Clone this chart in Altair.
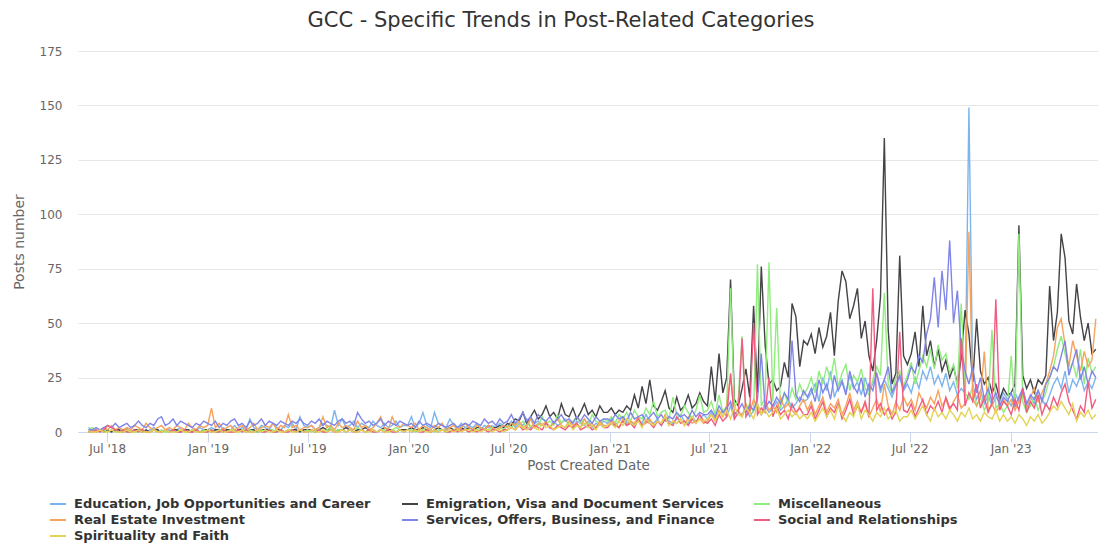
import altair as alt
import pandas as pd

series_names = [
    "Education, Job Opportunities and Career",
    "Emigration, Visa and Document Services",
    "Miscellaneous",
    "Real Estate Investment",
    "Services, Offers, Business, and Finance",
    "Social and Relationships",
    "Spirituality and Faith",
]
colors = ["#7cb5ec", "#434348", "#90ed7d", "#f7a35c", "#8085e9", "#f15c80", "#e4d354"]

# weekly points, first week starting 2018-05-28
first_week = "2018-05-28"
n_weeks = 263

education = [
    2,1,1,0,1,
    1,0,1,1,0,2,1,0,1,1,0,1,2,1,0,1,1,0,1,2,1,0,1,1,2,1,
    1,2,1,0,2,1,1,3,1,2,1,6,2,1,3,2,1,4,2,1,3,2,4,1,7,3,
    2,3,1,2,4,3,2,10,3,6,2,3,5,2,4,3,2,5,3,2,4,2,3,5,2,3,
    3,7,2,4,9,3,2,9,4,3,2,6,3,2,4,2,3,2,4,1,3,2,3,2,4,3,
    3,5,2,4,3,6,2,4,5,3,4,2,5,3,4,6,3,2,5,4,3,5,2,4,3,5,
    4,6,3,5,7,4,5,3,6,4,8,5,4,6,3,7,5,4,6,8,5,4,7,5,6,8,
    6,9,5,8,10,7,12,6,9,8,11,7,10,13,8,12,9,11,14,10,12,15,11,13,16,14,
    15,18,22,14,25,19,28,16,21,24,18,26,20,23,17,25,19,22,27,18,24,20,16,21,25,19,
    22,18,25,20,28,24,30,22,26,21,27,19,23,17,20,18,149,22,15,19,13,17,12,16,14,18,
    15,12,18,14,20,11,16,13,19,15,12,17,22,25,20,28,18,24,21,26,19,23,20,25,
]
emigration = [
    0,1,0,1,0,
    1,0,1,1,0,1,0,1,1,0,1,0,1,1,0,1,0,1,1,0,1,1,0,1,0,1,
    1,0,1,1,0,1,1,0,1,1,0,1,1,0,1,1,1,0,1,1,0,1,1,1,0,1,
    1,1,0,1,2,1,1,0,1,1,2,1,0,1,1,2,1,1,0,1,2,1,1,0,1,1,
    1,2,1,1,2,1,0,1,2,1,1,2,1,1,2,1,2,1,2,2,1,3,2,2,3,2,
    4,3,6,5,9,4,7,10,6,8,12,7,9,6,13,8,7,11,6,9,13,8,10,7,12,9,
    9,11,8,10,9,12,10,17,11,21,13,24,12,10,14,19,11,9,16,10,12,17,11,13,18,14,
    12,30,14,36,18,25,70,15,12,20,29,16,58,18,76,40,22,24,19,21,32,25,59,53,30,42,
    40,45,36,48,39,44,55,35,60,74,69,52,58,66,43,51,35,28,42,62,135,47,22,27,81,35,
    31,36,46,30,58,35,42,30,38,28,33,25,30,22,34,56,45,23,52,28,22,25,18,22,15,20,
    17,18,22,95,26,20,24,18,24,22,26,67,42,55,91,80,51,45,68,53,42,50,36,38,
]
miscellaneous = [
    1,2,1,0,1,
    0,1,0,0,1,0,1,0,0,1,0,0,1,0,1,0,0,1,0,1,0,0,1,0,0,1,
    0,1,0,0,1,0,1,1,0,1,0,1,0,0,1,0,1,1,0,1,0,1,1,0,1,0,
    1,0,1,1,0,1,2,0,1,1,0,1,1,2,1,0,1,1,0,1,1,0,1,2,1,0,
    1,1,0,1,1,2,1,0,1,1,1,0,1,2,1,1,0,1,1,2,1,1,2,1,2,1,
    3,2,4,3,5,2,6,4,3,7,4,5,3,8,4,6,3,5,7,4,6,3,8,5,4,6,
    5,7,4,8,6,9,5,10,7,6,11,8,14,7,9,10,6,16,8,7,12,9,6,10,17,9,
    10,14,8,17,9,12,66,11,15,44,10,13,9,77,12,16,78,14,57,11,18,13,20,15,22,17,
    20,25,18,28,22,30,24,34,21,27,31,19,26,23,29,20,17,24,30,26,64,22,18,25,28,21,
    26,32,22,28,35,30,38,29,40,33,36,27,31,20,59,18,15,21,12,16,10,14,47,11,13,9,
    12,35,10,91,14,9,12,16,10,14,18,25,30,38,44,36,28,32,25,38,22,34,27,30,
]
real_estate = [
    0,1,0,1,2,
    1,3,1,2,1,2,1,3,2,1,4,2,1,2,3,1,2,1,3,2,1,4,2,1,3,2,
    3,11,2,4,1,2,3,1,2,3,1,2,4,1,2,3,2,4,1,3,2,8,2,3,1,2,
    2,3,1,2,7,2,3,1,4,2,3,2,1,5,2,3,1,2,4,7,2,1,7,3,2,4,
    3,2,4,1,3,2,1,3,2,4,1,2,3,1,2,4,2,1,3,2,1,3,2,1,2,3,
    2,4,3,5,2,3,6,2,4,3,5,2,4,6,3,2,5,3,4,2,6,3,4,2,5,3,
    3,5,4,2,6,3,5,4,7,3,4,6,3,5,4,8,3,5,4,6,3,7,4,5,6,4,
    5,8,6,10,7,12,26,8,10,7,13,9,15,11,8,14,10,12,9,16,11,13,10,8,12,15,
    10,14,8,12,16,9,13,11,15,8,12,18,10,14,9,13,7,11,15,9,22,12,8,14,10,16,
    12,15,10,18,14,11,16,13,19,12,15,10,14,17,11,13,92,15,12,16,37,10,13,9,12,15,
    12,15,10,14,18,12,16,20,14,18,22,28,35,48,52,40,30,42,35,28,37,30,33,52,
]
services = [
    1,1,2,1,2,
    3,2,4,2,3,4,2,3,5,3,2,4,3,6,7,3,4,6,3,5,4,3,2,4,3,5,
    4,3,5,2,4,3,5,6,3,4,2,5,3,4,6,3,5,4,3,5,4,3,5,4,6,4,
    3,5,4,6,3,5,4,3,5,6,4,5,3,9,6,4,5,3,4,6,3,5,4,3,5,4,
    3,4,2,5,3,4,3,2,4,3,2,3,4,2,3,4,3,5,4,3,6,4,5,3,6,4,
    5,8,4,6,9,5,7,4,8,6,5,7,4,6,8,5,6,4,7,5,8,6,4,7,5,6,
    6,5,8,6,7,5,9,6,7,8,5,7,9,6,8,5,7,6,9,7,8,6,10,7,9,8,
    8,10,7,12,9,11,14,8,10,13,9,12,10,15,36,11,14,12,16,13,18,15,42,17,14,19,
    16,20,14,24,18,22,15,26,19,23,17,28,21,18,25,16,22,19,27,20,24,30,18,22,26,20,
    24,30,27,35,32,45,52,71,48,74,56,88,50,65,38,28,22,30,18,25,15,20,14,18,12,16,
    14,18,12,16,20,13,17,15,19,14,22,25,30,28,35,42,26,32,38,24,30,22,28,25,
]
social = [
    0,0,1,0,1,
    3,2,1,0,1,0,0,1,0,1,0,0,1,0,0,1,0,1,0,0,1,0,0,1,0,0,
    0,1,0,0,1,0,0,0,1,0,1,0,0,1,0,0,1,0,0,1,0,0,1,0,1,0,
    0,1,0,1,0,0,1,0,0,1,0,1,0,0,1,0,1,0,0,1,0,1,0,0,1,0,
    1,0,1,0,0,1,0,1,0,1,0,0,1,0,1,1,0,1,0,1,1,0,1,1,0,1,
    1,2,1,3,1,2,1,3,2,1,4,2,1,3,2,1,3,2,4,1,2,3,1,2,4,2,
    2,4,3,2,5,3,4,2,6,3,5,4,2,5,3,6,4,3,7,4,5,3,6,4,8,5,
    4,6,3,8,5,7,27,6,9,43,7,10,50,8,11,9,25,7,12,8,10,6,13,9,11,8,
    8,12,6,10,14,7,11,9,13,6,10,15,8,12,9,14,7,66,10,13,8,11,6,9,46,10,
    9,13,7,11,15,8,12,10,14,9,16,11,13,10,43,12,18,14,22,11,16,9,13,61,10,14,
    12,8,15,10,20,9,14,11,17,8,13,10,16,12,18,22,14,10,6,12,9,23,11,15,
]
spirituality = [
    0,0,0,1,0,
    0,1,0,0,0,1,0,0,1,0,0,0,1,0,0,1,0,0,0,1,0,0,1,0,0,0,
    1,0,0,1,0,0,1,0,0,1,0,0,0,1,0,1,0,0,1,0,0,1,0,0,1,0,
    0,1,0,0,1,0,1,0,0,1,0,1,0,0,1,0,0,1,0,1,0,0,1,0,1,0,
    1,0,1,0,1,0,0,1,0,1,0,1,0,1,0,1,1,0,1,0,1,1,0,1,1,0,
    1,2,1,3,2,1,3,2,1,4,2,3,1,2,3,2,4,1,3,2,4,2,3,1,4,2,
    3,4,2,5,3,6,4,3,5,2,6,4,3,5,4,7,3,5,4,6,3,5,7,4,6,5,
    6,8,5,9,7,10,6,12,8,7,11,9,6,13,8,10,7,9,11,6,8,10,7,9,6,8,
    6,9,5,8,11,7,10,6,12,8,5,9,7,13,6,10,8,5,9,7,11,6,8,10,5,7,
    7,10,6,9,12,8,5,11,7,9,6,10,8,5,9,7,11,6,8,5,9,7,6,10,5,8,
    5,7,4,8,6,3,7,5,8,4,6,9,12,10,14,11,8,13,5,9,7,10,6,8,
]

y_ticks = [0, 25, 50, 75, 100, 125, 150, 175]
x_tick_months = [(2018, 7), (2019, 1), (2019, 7), (2020, 1), (2020, 7),
                 (2021, 1), (2021, 7), (2022, 1), (2022, 7), (2023, 1)]

all_series = [education, emigration, miscellaneous, real_estate,
              services, social, spirituality]
for s in all_series:
    assert len(s) == n_weeks, len(s)

dates = pd.date_range(first_week, periods=n_weeks, freq="7D").strftime("%Y-%m-%d")
rows = []
for name, vals in zip(series_names, all_series):
    for d, v in zip(dates, vals):
        rows.append({"date": d, "series": name, "value": v})
df = pd.DataFrame(rows)

FONT = "DejaVu Sans"

chart = alt.Chart(df).mark_line(strokeWidth=1.4).encode(
    x=alt.X(
        "date:T",
        title="Post Created Date",
        scale=alt.Scale(
            type="utc",
            domain=[alt.DateTime(year=2018, month=5, date=9, utc=True),
                    alt.DateTime(year=2023, month=6, date=9, utc=True)],
        ),
        axis=alt.Axis(
            values=[alt.DateTime(year=y, month=m, date=1, utc=True) for y, m in x_tick_months],
            labelExpr="utcFormat(datum.value, \"%b '%y\")",
            grid=False,
            domainColor="#ccd6eb",
            tickColor="#ccd6eb",
            tickSize=10,
            labelColor="#666666",
            labelFontSize=12,
            labelPadding=1,
            titleColor="#666666",
            titleFontSize=13.5,
            titleFontWeight="normal",
            titlePadding=4,
        ),
    ),
    y=alt.Y(
        "value:Q",
        title="Posts number",
        scale=alt.Scale(domain=[0, 175], nice=False),
        axis=alt.Axis(
            values=y_ticks,
            domain=False,
            ticks=False,
            gridColor="#e6e6e6",
            labelColor="#666666",
            labelFontSize=12,
            labelPadding=16,
            titleColor="#666666",
            titleFontSize=14,
            titleFontWeight="normal",
            titlePadding=13,
        ),
    ),
    color=alt.Color(
        "series:N",
        scale=alt.Scale(domain=series_names, range=colors),
        legend=alt.Legend(
            title=None,
            orient="none",
            legendX=-29,
            legendY=444,
            direction="horizontal",
            columns=3,
            gridAlign="all",
            columnPadding=26,
            rowPadding=0,
            symbolType="stroke",
            symbolStrokeWidth=2,
            symbolSize=256,
            labelFontSize=13,
            labelFontWeight="bold",
            labelColor="#333333",
            labelLimit=500,
            labelOffset=7,
            padding=0,
        ),
    ),
).properties(
    width=1020,
    height=381,
    title=alt.TitleParams(
        text="GCC - Specific Trends in Post-Related Categories",
        fontSize=21,
        fontWeight="normal",
        color="#333333",
        font=FONT,
        anchor="middle",
        dx=-27,
        offset=14,
    ),
    autosize=alt.AutoSizeParams(type="none"),
    padding={"left": 70, "top": 43, "right": 0, "bottom": 115},
).configure(
    font=FONT,
).configure_view(
    stroke=None,
)

chart.save("out.html", embed_options={"renderer": "svg", "actions": False})
